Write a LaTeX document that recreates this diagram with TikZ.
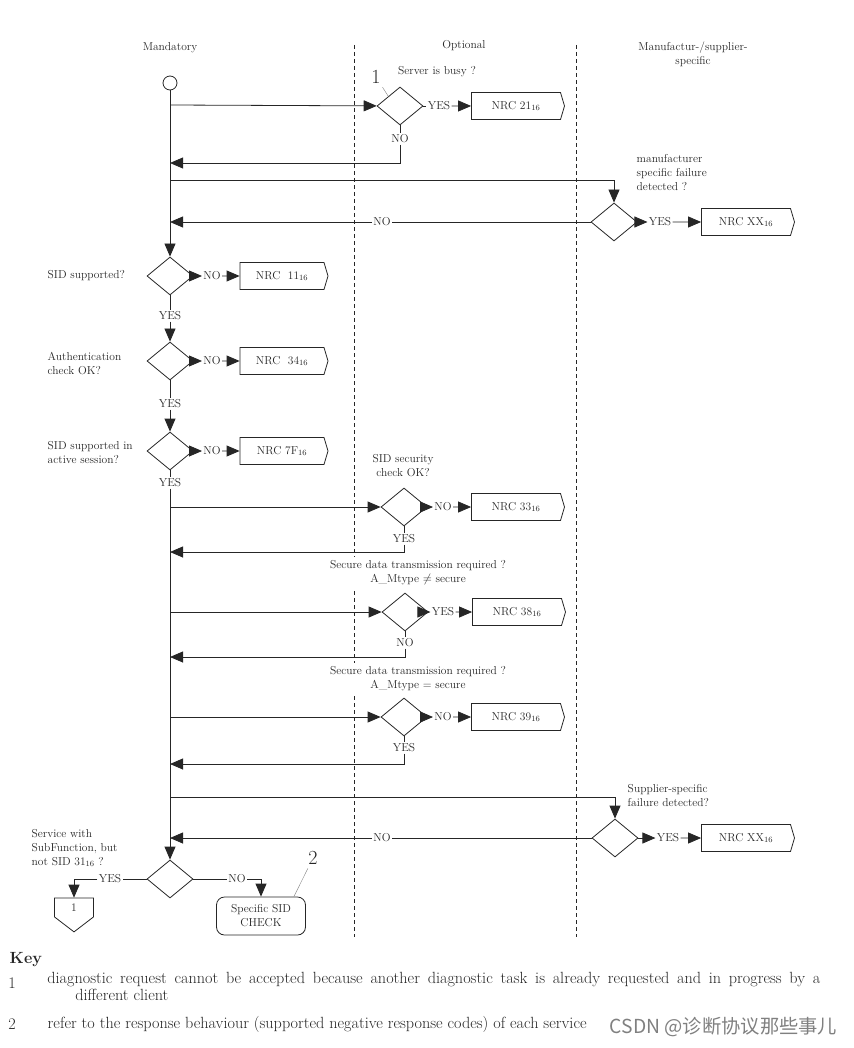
\documentclass[tikz,border=0pt]{standalone}
\usepackage{fontspec}
\newfontfamily\cjkfont{Noto Sans CJK SC}
\usetikzlibrary{shapes.geometric,shapes.symbols,arrows.meta}

\begin{document}
\begin{tikzpicture}[x=1pt,y=-1pt,
					>={Triangle[length=13pt,width=11pt]},
					line width=0.8pt,
					color=black!85,
					font=\fontsize{11.5}{14}\selectfont,
					check/.style={diamond,draw,minimum width=46pt,minimum height=38pt,inner sep=0pt},
					nrc/.style={signal,signal to=east,signal pointer angle=147,draw,
					            minimum width=93pt,minimum height=27pt,inner sep=0pt},
					lbl/.style={inner sep=1pt},
					note/.style={align=left,anchor=west},
					lane/.style={line width=0.6pt,dash pattern=on 4pt off 3pt},
					big/.style={font=\fontsize{20}{20}\selectfont},
					leader/.style={gray,line width=0.4pt},
					keyfont/.style={font=\fontsize{16.2}{17}\selectfont}]

  \useasboundingbox (0,0) rectangle (853,1048);

  % swim lanes
  \draw[lane] (354,45) -- (354,937);
  \draw[lane] (576,45) -- (576,937);
  \node (man) at (170,48) {Mandatory};
  \node (opt) at (464,46) {Optional};
  \node[align=center] (sup) at (693,54) {Manufactur-/supplier-\\specific};

  \node[circle,draw,minimum size=14pt,inner sep=0pt] (start) at (170,83) {};

  % server busy
  \coordinate (b1) at (170,105);
  \node[check] (d1) at (400,106) {};
  \node (q1) at (437,72) {Server is busy ?};
  \node[big] (one) at (376,77) {1};
  \node[lbl] (yes1) at (439,106) {YES};
  \node[nrc] (n21) at (516,106) {NRC 21\textsubscript{16}};
  \node[lbl] (no1) at (400,139) {NO};
  \coordinate (r1) at (170,163);

  % manufacturer specific failure
  \coordinate (b2) at (170,180);
  \node[check] (d2) at (614,222) {};
  \node[note] (q2) at (633,173) {manufacturer\\specific failure\\detected ?};
  \node[lbl] (yes2) at (660,222) {YES};
  \node[nrc] (nxx1) at (746,222) {NRC XX\textsubscript{16}};
  \node[lbl] (no2) at (382,222) {NO};
  \coordinate (r2) at (170,222);

  % SID supported
  \node[check] (d3) at (170,276) {};
  \node[note] (q3) at (44,276) {SID supported?};
  \node[lbl] (no3) at (212,276) {NO};
  \node[nrc,minimum width=88pt] (n11) at (282,276) {NRC~~11\textsubscript{16}};
  \node[lbl] (yes3) at (170,316) {YES};

  % authentication
  \node[check] (d4) at (170,361) {};
  \node[note] (q4) at (44,364) {Authentication\\check OK?};
  \node[lbl] (no4) at (212,361) {NO};
  \node[nrc,minimum width=88pt] (n34) at (282,361) {NRC~~34\textsubscript{16}};
  \node[lbl] (yes4) at (170,404) {YES};

  % active session
  \node[check] (d5) at (170,451) {};
  \node[note] (q5) at (44,453) {SID supported in\\active session?};
  \node[lbl] (no5) at (212,451) {NO};
  \node[nrc,minimum width=88pt] (n7f) at (282,451) {NRC 7F\textsubscript{16}};
  \node[lbl] (yes5) at (170,483) {YES};

  % security check
  \coordinate (b6) at (170,507);
  \node[check] (d6) at (404,507) {};
  \node[align=center] (q6) at (403,466) {SID security\\check OK?};
  \node[lbl] (no6) at (443,507) {NO};
  \node[nrc] (n33) at (516,507) {NRC 33\textsubscript{16}};
  \node[lbl] (yes6) at (404,539) {YES};
  \coordinate (r6) at (170,552);

  % secure transmission, not secure
  \node[align=center,fill=white] (q7) at (418,573) {Secure data transmission required ?\\A\_Mtype $\neq$ secure};
  \coordinate (b7) at (170,612);
  \node[check] (d7) at (405,612) {};
  \node[lbl] (yes7) at (443,612) {YES};
  \node[nrc] (n38) at (517,612) {NRC 38\textsubscript{16}};
  \node[lbl] (no7) at (405,643) {NO};
  \coordinate (r7) at (170,657);

  % secure transmission, secure
  \node[align=center,fill=white] (q8) at (418,679) {Secure data transmission required ?\\A\_Mtype = secure};
  \coordinate (b8) at (170,717);
  \node[check] (d8) at (404,717) {};
  \node[lbl] (no8) at (443,717) {NO};
  \node[nrc] (n39) at (516,717) {NRC 39\textsubscript{16}};
  \node[lbl] (yes8) at (404,748) {YES};
  \coordinate (r8) at (170,764);

  % supplier specific failure
  \coordinate (b9) at (170,797);
  \node[check] (d9) at (615,838) {};
  \node[note] (q9) at (624,796) {Supplier-specific\\failure detected?};
  \node[lbl] (yes9) at (668,838) {YES};
  \node[nrc] (nxx2) at (746,838) {NRC XX\textsubscript{16}};
  \node[lbl] (no9) at (382,838) {NO};
  \coordinate (r9) at (170,838);

  % subfunction
  \node[check] (d10) at (170,879) {};
  \node[note] (q10) at (28,848) {Service with\\SubFunction, but\\not SID 31\textsubscript{16} ?};
  \node[lbl] (yes10) at (110,879) {YES};
  \node[signal,signal to=south,signal pointer angle=105,draw,
        minimum width=39pt,minimum height=21pt,inner sep=0pt] (c1) at (74,907.5) {1};
  \node[lbl] (no10) at (237,879) {NO};
  \node[draw,rounded corners=8pt,align=center,minimum width=89pt,minimum height=38pt] (chk) at (261,916) {Specific SID\\CHECK};
  \node[big] (two) at (313,858) {2};

  % main line
  \draw[->] (start) -- (d3);
  \path (d3) edge (yes3)
        (d4) edge (yes4)
        (d5) edge (yes5);
  \path[->] (yes3) edge (d4)
            (yes4) edge (d5)
            (yes5) edge (d10);

  % branches
  \path (d1) edge (yes1) edge (no1)
        (d2) edge (no2)
        (d6) edge (yes6)
        (d7) edge (no7)
        (d8) edge (yes8)
        (d9) edge (no9)
        (d10) edge (yes10) edge (no10);
  \path[->] (b1) edge (d1)
            (yes1) edge (n21)
            (d2) edge (yes2)
            (yes2) edge (nxx1)
            (no2) edge (r2)
            (d3) edge (no3)
            (no3) edge (n11)
            (d4) edge (no4)
            (no4) edge (n34)
            (d5) edge (no5)
            (no5) edge (n7f)
            (b6) edge (d6)
            (d6) edge (no6)
            (no6) edge (n33)
            (b7) edge (d7)
            (d7) edge (yes7)
            (yes7) edge (n38)
            (b8) edge (d8)
            (d8) edge (no8)
            (no8) edge (n39)
            (d9) edge (yes9)
            (yes9) edge (nxx2)
            (no9) edge (r9);
  \draw[->] (no1) |- (r1);
  \draw[->] (b2) -| (d2);
  \draw[->] (yes6) |- (r6);
  \draw[->] (no7) |- (r7);
  \draw[->] (yes8) |- (r8);
  \draw[->] (b9) -| (d9);
  \draw[->] (yes10) -| (c1);
  \draw[->] (no10) -| (chk);

  \draw[leader] (one) -- (d1.north west);
  \draw[leader] (two) -- ([xshift=-12pt]chk.north east);

  % key
  \node[keyfont,anchor=west] (key) at (6,960) {\bfseries Key};
  \node[keyfont] (k1) at (12,983) {1};
  \node[keyfont,anchor=north west,text width=773pt,align=justify,inner sep=0pt] (t1) at (47,972)
    {diagnostic request cannot be accepted because another diagnostic task is already requested and in progress by a\linebreak
     \hspace*{28pt}different client};
  \node[keyfont] (k2) at (12,1024) {2};
  \node[keyfont,anchor=west] (t2) at (44,1024) {refer to the response behaviour (supported negative response codes) of each service};
  \node[anchor=west,text=gray,font=\cjkfont\fontsize{19.3}{21}\selectfont] (wm) at (606,1027) {CSDN @诊断协议那些事儿};
\end{tikzpicture}
\end{document}
